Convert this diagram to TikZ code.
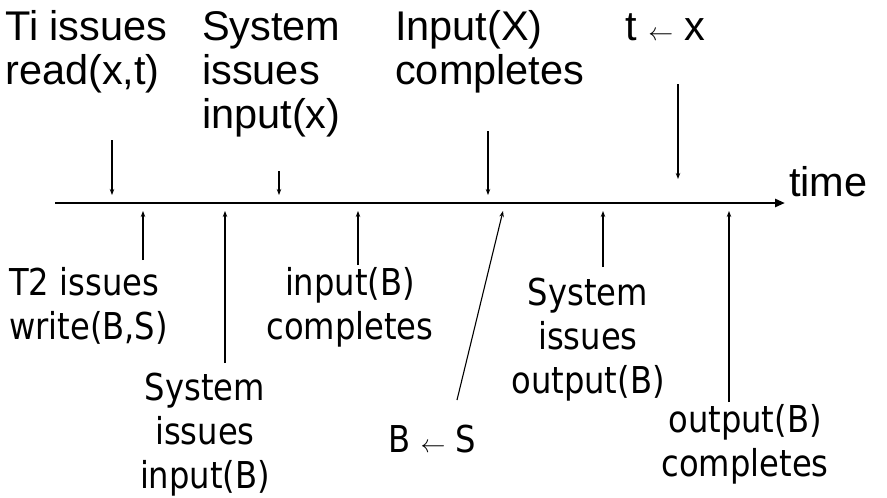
\documentclass[tikz,border=0pt]{standalone}
\usepackage{fontspec}
\setmainfont{Liberation Sans}
\newfontfamily\topf{Liberation Sans}
\newfontfamily\botf[FakeStretch=0.87]{DejaVu Sans}
\usetikzlibrary{arrows.meta}
\begin{document}
\begin{tikzpicture}[x=1pt,y=-1pt,
  toplab/.style={anchor=base west, align=left, inner sep=0pt, font=\topf\fontsize{41.5}{44}\selectfont},
  botlab/.style={anchor=base, align=center, inner sep=0pt, font=\botf\fontsize{37}{44}\selectfont},
  ev/.style={-{Stealth[length=6pt,width=4.5pt]}, line width=1.1pt},
  axis/.style={line width=2.8pt, -{Triangle[length=10pt,width=8pt]}}]
\useasboundingbox (0,0) rectangle (887,498);

% time axis
\coordinate (t0) at (55,203);
\coordinate (t1) at (785,203);
\draw[axis] (t0) -- (t1);
\node[toplab] (time) at (789,196) {time};

% top labels (anchor = baseline of last line)
\node[toplab] (ti) at (5,84) {Ti issues\\read(x,t)};
\node[toplab] (sysx) at (202,128) {System\\issues\\input(x)};
\node[toplab] (inpx) at (395,84) {Input(X)\\completes};
\node[toplab] (tx) at (625,40) {t $\leftarrow$ x};

% down arrows
\coordinate (d1s) at (112,140); \coordinate (d1e) at (112,195);
\coordinate (d2s) at (279,171); \coordinate (d2e) at (279,195);
\coordinate (d3s) at (488,131); \coordinate (d3e) at (488,195);
\coordinate (d4s) at (678,84);  \coordinate (d4e) at (678,179);
\draw[ev] (d1s) -- (d1e);
\draw[ev] (d2s) -- (d2e);
\draw[ev] (d3s) -- (d3e);
\draw[ev] (d4s) -- (d4e);

% bottom labels (anchor = baseline of last line)
\node[botlab, anchor=base west, align=left] (t2) at (9,339) {T2 issues\\write(B,S)};
\node[botlab] (inb) at (350,339) {input(B)\\completes};
\node[botlab] (sysb) at (205,488) {System\\issues\\input(B)};
\node[botlab, anchor=base west] (bs) at (388,452) {B $\leftarrow$ S};
\node[botlab] (syso) at (588,393) {System\\issues\\output(B)};
\node[botlab] (outb) at (745,476) {output(B)\\completes};

% up arrows
\coordinate (u1s) at (143,260); \coordinate (u1e) at (143,211);
\coordinate (u2s) at (225,363); \coordinate (u2e) at (225,211);
\coordinate (u3s) at (358,265); \coordinate (u3e) at (358,211);
\coordinate (u4s) at (457,400); \coordinate (u4e) at (503,211);
\coordinate (u5s) at (603,267); \coordinate (u5e) at (603,211);
\coordinate (u6s) at (729,402); \coordinate (u6e) at (729,211);
\draw[ev] (u1s) -- (u1e);
\draw[ev] (u2s) -- (u2e);
\draw[ev] (u3s) -- (u3e);
\draw[ev] (u4s) -- (u4e);
\draw[ev] (u5s) -- (u5e);
\draw[ev] (u6s) -- (u6e);
\end{tikzpicture}
\end{document}
